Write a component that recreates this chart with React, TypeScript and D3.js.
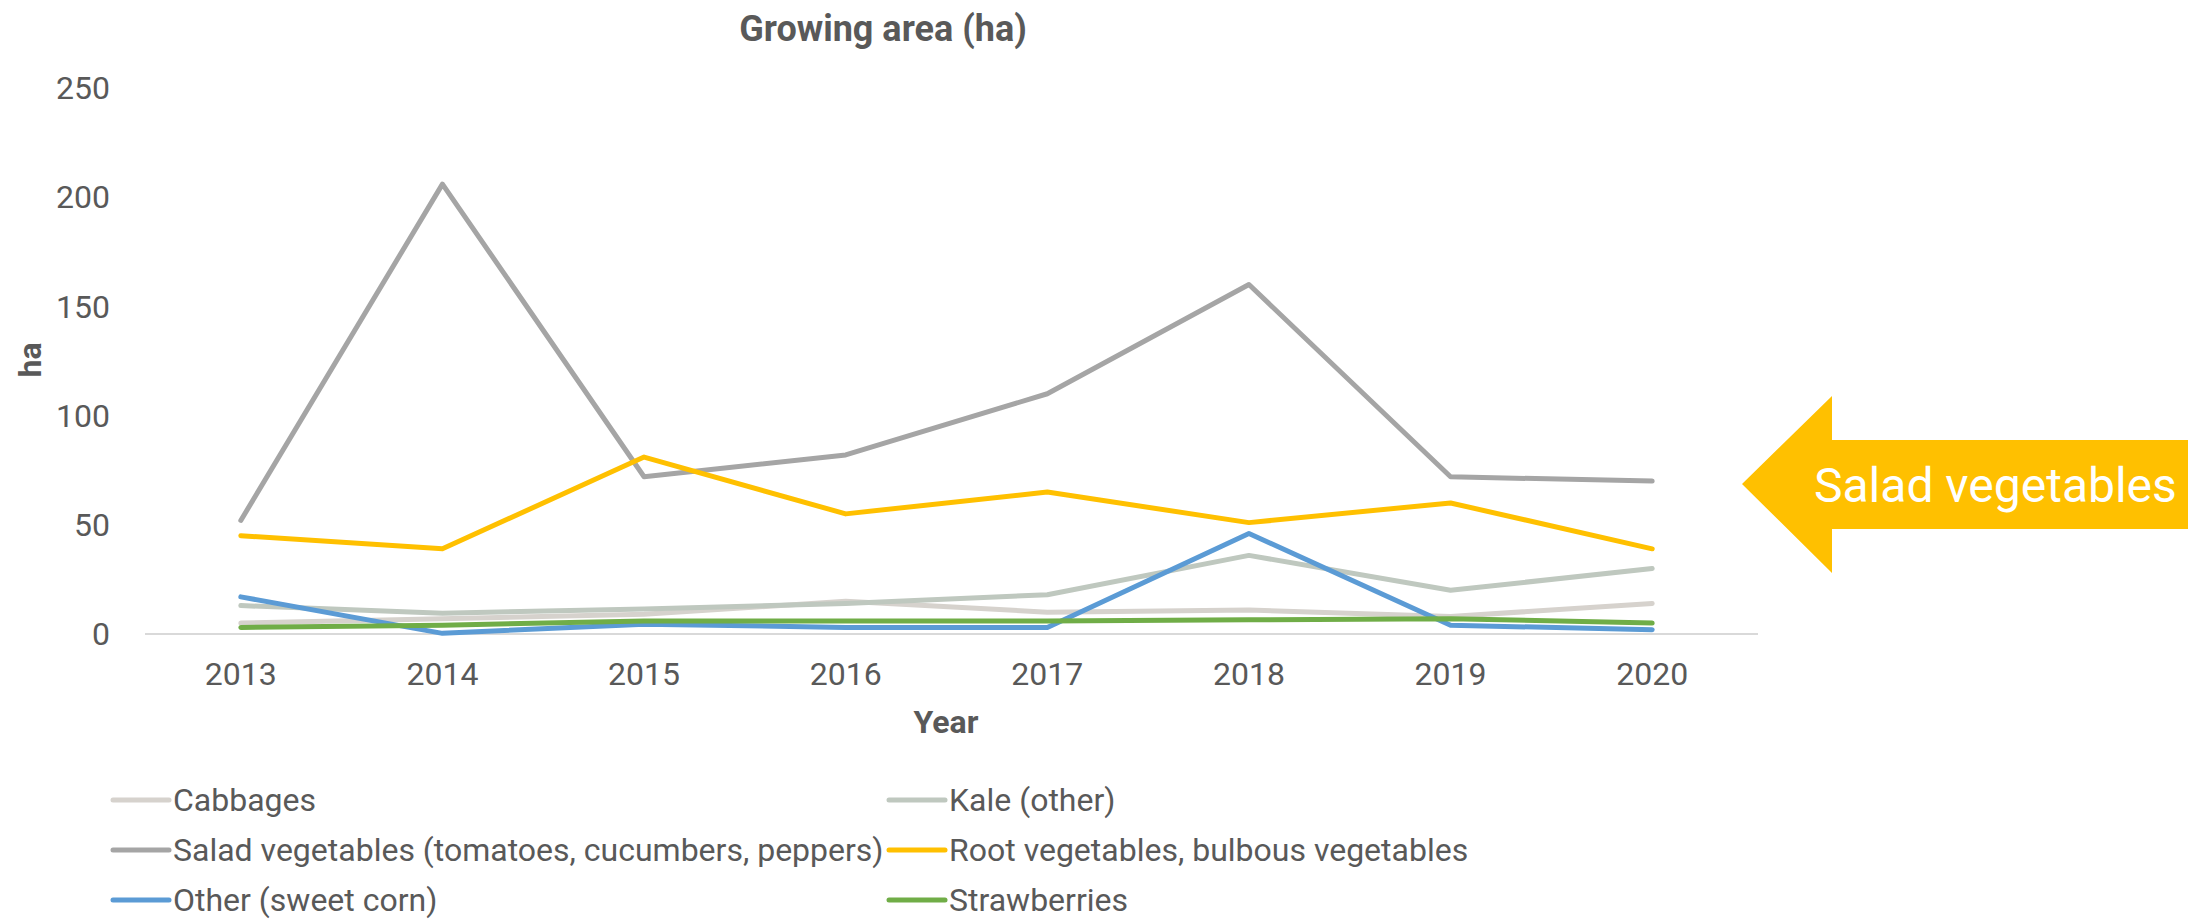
import * as d3 from 'd3';

const years = ['2013', '2014', '2015', '2016', '2017', '2018', '2019', '2020'];
const yTicks = [0, 50, 100, 150, 200, 250];

const cabbages = [5, 7, 9, 15, 10, 11, 8, 14];
const kale = [13, 9.5, 11.5, 14, 18, 36, 20, 30];
const salad = [52, 206, 72, 82, 110, 160, 72, 70];
const rootVeg = [45, 39, 81, 55, 65, 51, 60, 39];
const otherCorn = [17, 0.3, 4.5, 3, 3, 46, 4, 2];
const strawberries = [3, 4, 6, 6, 6, 6.5, 7, 5];

const seriesNames = [
  'Cabbages',
  'Kale (other)',
  'Salad vegetables (tomatoes, cucumbers, peppers)',
  'Root vegetables, bulbous vegetables',
  'Other (sweet corn)',
  'Strawberries',
];
const seriesColors = ['#D6D2CD', '#BFC8BF', '#A5A5A5', '#FFC000', '#5B9BD5', '#70AD47'];
const seriesValues = [cabbages, kale, salad, rootVeg, otherCorn, strawberries];

const W = 2188;
const H = 922;
const textColor = '#595959';
const font = 'Roboto, "Noto Sans", sans-serif';

export default function App() {
  const x = d3.scaleBand<string>().domain(years).range([140, 1753]);
  const y = d3.scaleLinear().domain([0, 250]).range([634, 88]);
  const cx = (yr: string) => (x(yr) ?? 0) + x.bandwidth() / 2;

  const line = d3
    .line<number>()
    .x((_, i) => cx(years[i]))
    .y((d) => y(d));

  // arrow callout pointing at the salad line
  const arrow = d3.path();
  arrow.moveTo(1742, 484);
  arrow.lineTo(1832, 396);
  arrow.lineTo(1832, 440);
  arrow.lineTo(W, 440);
  arrow.lineTo(W, 529);
  arrow.lineTo(1832, 529);
  arrow.lineTo(1832, 573);
  arrow.closePath();

  return (
    <svg
      width={W}
      height={H}
      style={{ position: 'absolute', left: 0, top: 0, background: '#fff' }}
      fontFamily={font}
    >
      <text x={883} y={41} textAnchor="middle" fontSize={36} fontWeight="bold" fill={textColor}>
        Growing area (ha)
      </text>

      {/* y ticks */}
      {yTicks.map((t) => (
        <text key={t} x={110} y={y(t)} dy="0.35em" textAnchor="end" fontSize={32} fill={textColor}>
          {t}
        </text>
      ))}

      <line x1={145} x2={1758} y1={y(0)} y2={y(0)} stroke="#D9D9D9" strokeWidth={2} />

      {years.map((yr) => (
        <text key={yr} x={cx(yr)} y={685} textAnchor="middle" fontSize={32} fill={textColor}>
          {yr}
        </text>
      ))}

      <text x={946} y={733} textAnchor="middle" fontSize={32} fontWeight="bold" fill={textColor}>
        Year
      </text>
      <text
        transform="translate(41,360) rotate(-90)"
        textAnchor="middle"
        fontSize={32}
        fontWeight="bold"
        fill={textColor}
      >
        ha
      </text>

      {seriesValues.map((vals, i) => (
        <path
          key={seriesNames[i]}
          d={line(vals) ?? ''}
          fill="none"
          stroke={seriesColors[i]}
          strokeWidth={5}
          strokeLinejoin="round"
          strokeLinecap="round"
        />
      ))}

      <path d={arrow.toString()} fill="#FFC000" />
      <text x={1814} y={502} fontSize={48} fill="#fff">
        Salad vegetables
      </text>

      {/* legend */}
      {seriesNames.map((name, i) => {
        const col = i % 2;
        const row = Math.floor(i / 2);
        const lx = col === 0 ? 113 : 889;
        const ly = 800 + row * 50;
        return (
          <g key={name}>
            <line
              x1={lx}
              x2={lx + 56}
              y1={ly}
              y2={ly}
              stroke={seriesColors[i]}
              strokeWidth={5}
              strokeLinecap="round"
            />
            <text x={lx + 60} y={ly} dy="0.35em" fontSize={32} fill={textColor}>
              {name}
            </text>
          </g>
        );
      })}
    </svg>
  );
}
